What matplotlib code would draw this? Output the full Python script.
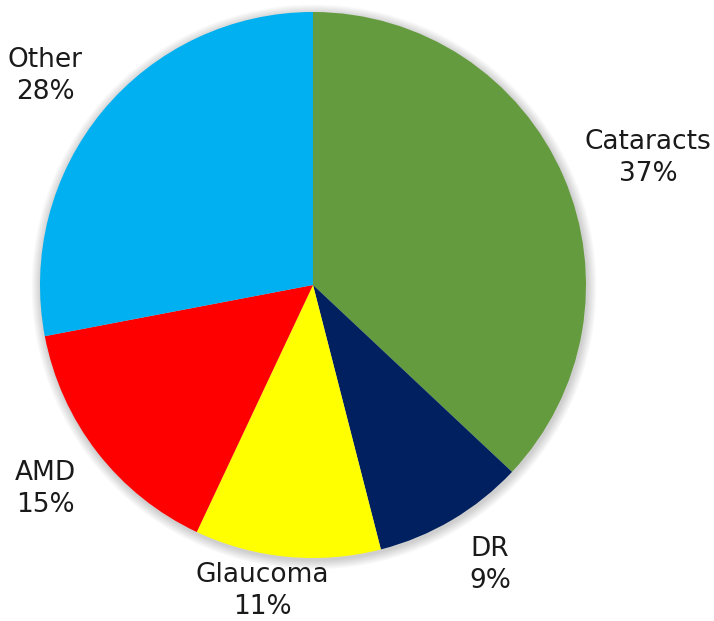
import matplotlib.pyplot as plt
from matplotlib.patches import Circle

# data
labels = ['Cataracts', 'DR', 'Glaucoma', 'AMD', 'Other']
shares = [37, 9, 11, 15, 28]
colors = ['#659B3F', '#002060', '#FFFF00', '#FF0000', '#00B0F0']

# label centres in pixels (x from left, y from top)
label_pos = [(648, 158), (490, 565), (262, 591), (45, 489), (45, 76)]

W, H = 714, 621
fig = plt.figure(figsize=(W / 100, H / 100), dpi=100)
ax = fig.add_axes([0, 0, 1, 1])

cx, cy, r = 313, H - 285, 273

# soft shadow around the pie
for i in range(12, 0, -1):
    ax.add_patch(Circle((cx + 1, cy - 2), r + i * 0.8, color='black',
                        alpha=0.014, lw=0, zorder=0))

ax.pie(shares, colors=colors, startangle=90, counterclock=False,
       center=(cx, cy), radius=r, frame=True,
       wedgeprops=dict(linewidth=0))
ax.set_xlim(0, W)
ax.set_ylim(0, H)
ax.set_aspect('equal')
ax.axis('off')

for lab, val, (x, y) in zip(labels, shares, label_pos):
    ax.text(x, H - y, f'{lab}\n{val}%', ha='center', va='center',
            fontsize=19, color='#1a1a1a', linespacing=1.3,
            family='DejaVu Sans')

fig.savefig('out.png', dpi=100)
